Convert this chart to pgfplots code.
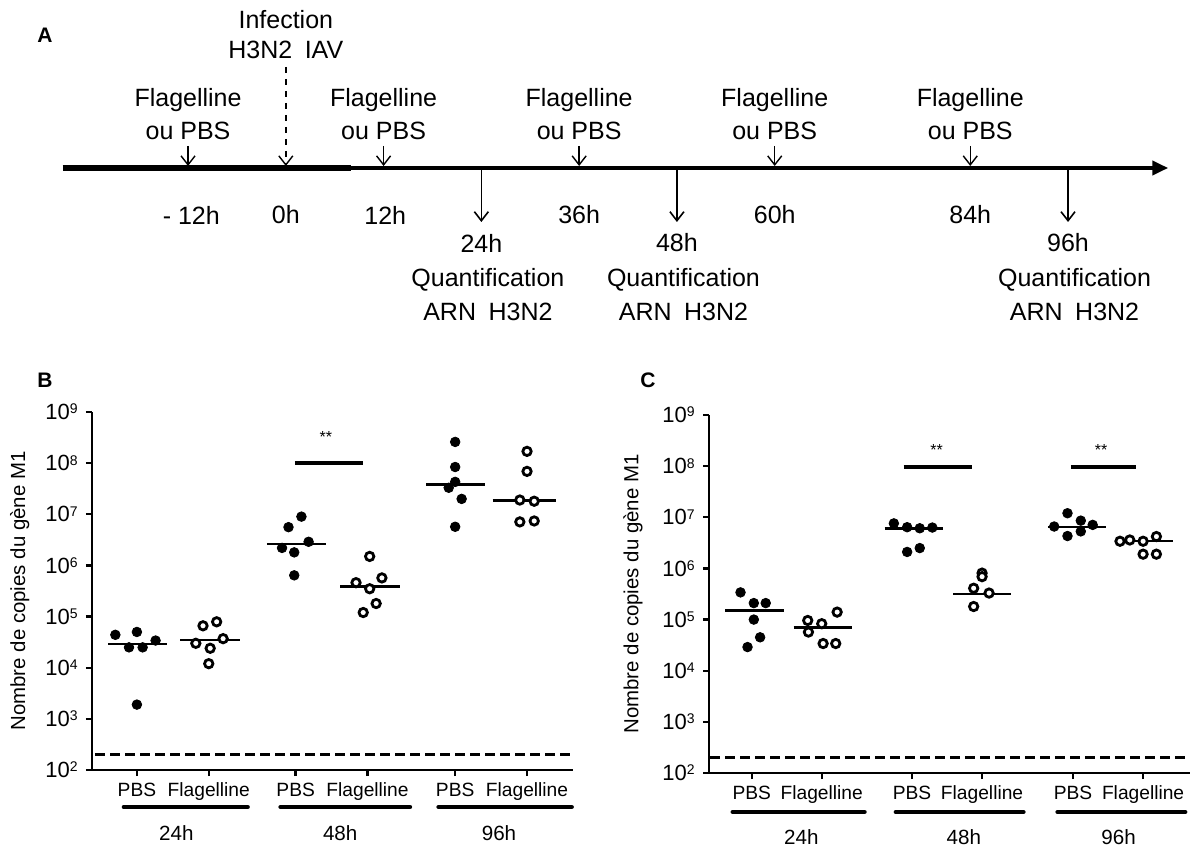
\documentclass[border=0pt]{standalone}
\usepackage{fontspec}
\setmainfont{Liberation Sans}
\usepackage{pgfplots}
\pgfplotsset{compat=1.18}
\usetikzlibrary{arrows.meta}

\newcommand\dec[1]{10\raisebox{2.8pt}{\fontsize{7}{8}\selectfont #1}}

\tikzset{
  med/.style={line width=1.2pt, black},
  sig/.style={line width=2pt, black},
  lod/.style={line width=1.8pt, black, dash pattern=on 5pt off 2.5pt},
  grp/.style={line width=2.3pt, black, line cap=round},
  pbs/.style={mark=*, mark size=2.4pt, mark options={fill=black, draw=black}},
  flag/.style={mark=*, mark size=2.1pt, mark options={line width=1.4pt, draw=black, fill=white}},
  tip/.style={-{Straight Barb[length=4.5pt,width=7pt]}},
  tl/.style={font=\fontsize{12.5}{14}\selectfont},
  gl/.style={font=\fontsize{10.3}{12}\selectfont},
}

\begin{document}
\begin{tikzpicture}
\useasboundingbox (0,0) rectangle (596pt,423pt);
\node[font=\bfseries\fontsize{10.5}{12}\selectfont] at (22.5pt,405.5pt) {A};
\node[font=\bfseries\fontsize{10.5}{12}\selectfont] at (22.5pt,233pt) {B};
\node[font=\bfseries\fontsize{10.5}{12}\selectfont] at (324pt,233pt) {C};

% ---- A: timeline, x in hours, y in rows from the top
\begin{axis}[at={(0.31pt,423pt)}, anchor=north west, scale only axis,
  width=590.74pt, height=170pt, xmin=-35, xmax=110, ymin=0, ymax=340,
  y dir=reverse, hide axis, clip=false]
  \addplot[line width=3pt] coordinates {(-27.4,168) (8,168)};
  \addplot[line width=2.2pt, -{Triangle[length=8pt,width=7pt]}] coordinates {(7.5,168) (108.3,168)};
  \pgfplotsinvokeforeach{-12,12,36,60,84}{
    \addplot[line width=0.7pt, tip] coordinates {(#1,146) (#1,166)};
    \node[tl] at (axis cs:#1,100) {Flagelline};
    \node[tl] at (axis cs:#1,131) {ou PBS};
  }
  \addplot[line width=0.7pt, dashed, tip] coordinates {(0,67) (0,166)};
  \node[tl] at (axis cs:0,20) {Infection};
  \node[tl] at (axis cs:0,50) {H3N2\hspace{0.5em}IAV};
  \pgfplotsinvokeforeach{24,48,96}{
    \addplot[line width=0.8pt, tip] coordinates {(#1,169) (#1,222)};
    \node[tl] at (axis cs:#1,243) {#1h};
    \node[tl] at (axis cs:#1+0.8,280) {Quantification};
    \node[tl] at (axis cs:#1+0.8,312) {ARN\hspace{0.5em}H3N2};
  }
  \node[tl] at (axis cs:-11.6,215) {- 12h};
  \node[tl] at (axis cs:0,215) {0h};
  \node[tl] at (axis cs:12.2,215) {12h};
  \node[tl] at (axis cs:36,215) {36h};
  \node[tl] at (axis cs:60,215) {60h};
  \node[tl] at (axis cs:84,215) {84h};
\end{axis}

% ---- B
\begin{axis}[at={(46pt,38pt)}, anchor=south west,
  scale only axis, width=240.5pt, height=179pt,
  ymode=log, ymin=100, ymax=1e9, xmin=-0.625, xmax=6.07,
  axis x line*=bottom, axis y line*=left,
  axis line style={line width=1.2pt},
  tick style={black, line width=1.2pt},
  tick align=outside, major tick length=3pt,
  ytick={1e2,1e3,1e4,1e5,1e6,1e7,1e8,1e9},
  yticklabels={\dec{2},\dec{3},\dec{4},\dec{5},\dec{6},\dec{7},\dec{8},\dec{9}},
  yminorticks=false,
  yticklabel style={font=\fontsize{11}{12}\selectfont, inner sep=1pt, xshift=-3pt},
  xtick={0,1,2.21,3.21,4.43,5.43},
  xticklabels={PBS,Flagelline,PBS,Flagelline,PBS,Flagelline},
  xticklabel style={font=\fontsize{9.6}{11}\selectfont},
  ylabel={Nombre de copies du gène M1},
  ylabel style={font=\fontsize{10.2}{12}\selectfont, at={(axis description cs:-0.15,0.5)}, anchor=center},
  clip=false]
  \addplot[lod] coordinates {(-0.58,200) (6.09,200)};
  % PBS
  \addplot[only marks, pbs] coordinates {(-0.30,4.4e4) (0.0,5.0e4) (-0.11,2.5e4) (0.08,2.5e4) (0.26,3.4e4) (0,1.9e3)};
  \addplot[only marks, pbs] coordinates {(2.11,5.6e6) (2.29,9.0e6) (2.02,2.2e6) (2.19,1.8e6) (2.39,2.9e6) (2.19,6.4e5)};
  \addplot[only marks, pbs] coordinates {(4.43,2.6e8) (4.43,8.4e7) (4.43,4.3e7) (4.34,3.3e7) (4.52,2.0e7) (4.43,5.7e6)};
  % Flagelline
  \addplot[only marks, flag] coordinates {(0.92,6.6e4) (1.11,7.9e4) (0.82,3.0e4) (1.02,2.4e4) (1.20,3.7e4) (1.0,1.2e4)};
  \addplot[only marks, flag] coordinates {(3.24,1.5e6) (3.05,4.6e5) (3.41,5.7e5) (3.24,3.5e5) (3.15,1.2e5) (3.33,1.8e5)};
  \addplot[only marks, flag] coordinates {(5.43,1.7e8) (5.43,6.9e7) (5.33,1.9e7) (5.53,1.8e7) (5.33,7.1e6) (5.53,7.4e6)};
  % medians
  \addplot[med] coordinates {(-0.40,2.9e4) (0.42,2.9e4)};
  \addplot[med] coordinates {(0.60,3.5e4) (1.43,3.5e4)};
  \addplot[med] coordinates {(1.81,2.6e6) (2.63,2.6e6)};
  \addplot[med] coordinates {(2.83,3.9e5) (3.66,3.9e5)};
  \addplot[med] coordinates {(4.03,3.8e7) (4.85,3.8e7)};
  \addplot[med] coordinates {(4.95,1.85e7) (5.84,1.85e7)};
  % significance
  \addplot[sig] coordinates {(2.2,1e8) (3.15,1e8)};
  \node[font=\fontsize{8}{9}\selectfont] at (axis cs:2.63,3.3e8) {**};
  % groups
  \draw[grp] (axis cs:-0.18,18.9) -- (axis cs:1.54,18.9);
  \draw[grp] (axis cs:2.00,18.9) -- (axis cs:3.80,18.9);
  \draw[grp] (axis cs:4.20,18.9) -- (axis cs:6.05,18.9);
  \node[gl] at (axis cs:0.55,5.8) {24h};
  \node[gl] at (axis cs:2.83,5.8) {48h};
  \node[gl] at (axis cs:5.04,5.8) {96h};
\end{axis}

% ---- C
\begin{axis}[at={(354.5pt,36.5pt)}, anchor=south west,
  scale only axis, width=240.5pt, height=179pt,
  ymode=log, ymin=100, ymax=1e9, xmin=-0.61, xmax=6.26,
  axis x line*=bottom, axis y line*=left,
  axis line style={line width=1.2pt},
  tick style={black, line width=1.2pt},
  tick align=outside, major tick length=3pt,
  ytick={1e2,1e3,1e4,1e5,1e6,1e7,1e8,1e9},
  yticklabels={\dec{2},\dec{3},\dec{4},\dec{5},\dec{6},\dec{7},\dec{8},\dec{9}},
  yminorticks=false,
  yticklabel style={font=\fontsize{11}{12}\selectfont, inner sep=1pt, xshift=-3pt},
  xtick={0,1,2.29,3.29,4.59,5.59},
  xticklabels={PBS,Flagelline,PBS,Flagelline,PBS,Flagelline},
  xticklabel style={font=\fontsize{9.6}{11}\selectfont},
  ylabel={Nombre de copies du gène M1},
  ylabel style={font=\fontsize{10.2}{12}\selectfont, at={(axis description cs:-0.158,0.5)}, anchor=center},
  clip=false]
  \addplot[lod] coordinates {(-0.59,200) (6.19,200)};
  % PBS
  \addplot[only marks, pbs] coordinates {(-0.16,3.4e5) (0.03,2.1e5) (0.20,2.1e5) (0.03,1.0e5) (0.12,4.5e4) (-0.06,2.9e4)};
  \addplot[only marks, pbs] coordinates {(2.03,7.6e6) (2.22,6.4e6) (2.40,6.1e6) (2.58,6.3e6) (2.22,2.1e6) (2.40,2.5e6)};
  \addplot[only marks, pbs] coordinates {(4.51,1.2e7) (4.70,8.6e6) (4.32,6.6e6) (4.87,7.1e6) (4.51,4.3e6) (4.70,5.3e6)};
  % Flagelline
  \addplot[only marks, flag] coordinates {(0.80,9.6e4) (1.00,8.3e4) (1.22,1.4e5) (0.81,5.7e4) (1.02,3.4e4) (1.20,3.4e4)};
  \addplot[only marks, flag] coordinates {(3.29,8.1e5) (3.29,6.9e5) (3.17,4.1e5) (3.39,3.3e5) (3.17,1.8e5)};
  \addplot[only marks, flag] coordinates {(5.26,3.4e6) (5.40,3.6e6) (5.59,3.4e6) (5.78,4.2e6) (5.59,1.9e6) (5.78,1.9e6)};
  % medians
  \addplot[med] coordinates {(-0.38,1.5e5) (0.46,1.5e5)};
  \addplot[med] coordinates {(0.60,7.0e4) (1.43,7.0e4)};
  \addplot[med] coordinates {(1.90,6.0e6) (2.73,6.0e6)};
  \addplot[med] coordinates {(2.88,3.2e5) (3.70,3.2e5)};
  \addplot[med] coordinates {(4.23,6.4e6) (5.06,6.4e6)};
  \addplot[med] coordinates {(5.19,3.4e6) (6.02,3.4e6)};
  % significance
  \addplot[sig] coordinates {(2.17,9.5e7) (3.15,9.5e7)};
  \addplot[sig] coordinates {(4.56,9.5e7) (5.49,9.5e7)};
  \node[font=\fontsize{8}{9}\selectfont] at (axis cs:2.64,2.1e8) {**};
  \node[font=\fontsize{8}{9}\selectfont] at (axis cs:4.99,2.1e8) {**};
  % groups
  \draw[grp] (axis cs:-0.27,17.3) -- (axis cs:1.61,17.3);
  \draw[grp] (axis cs:2.06,17.3) -- (axis cs:3.88,17.3);
  \draw[grp] (axis cs:4.37,17.3) -- (axis cs:6.19,17.3);
  \node[gl] at (axis cs:0.71,5.6) {24h};
  \node[gl] at (axis cs:3.03,5.6) {48h};
  \node[gl] at (axis cs:5.24,5.6) {96h};
\end{axis}
\end{tikzpicture}
\end{document}
